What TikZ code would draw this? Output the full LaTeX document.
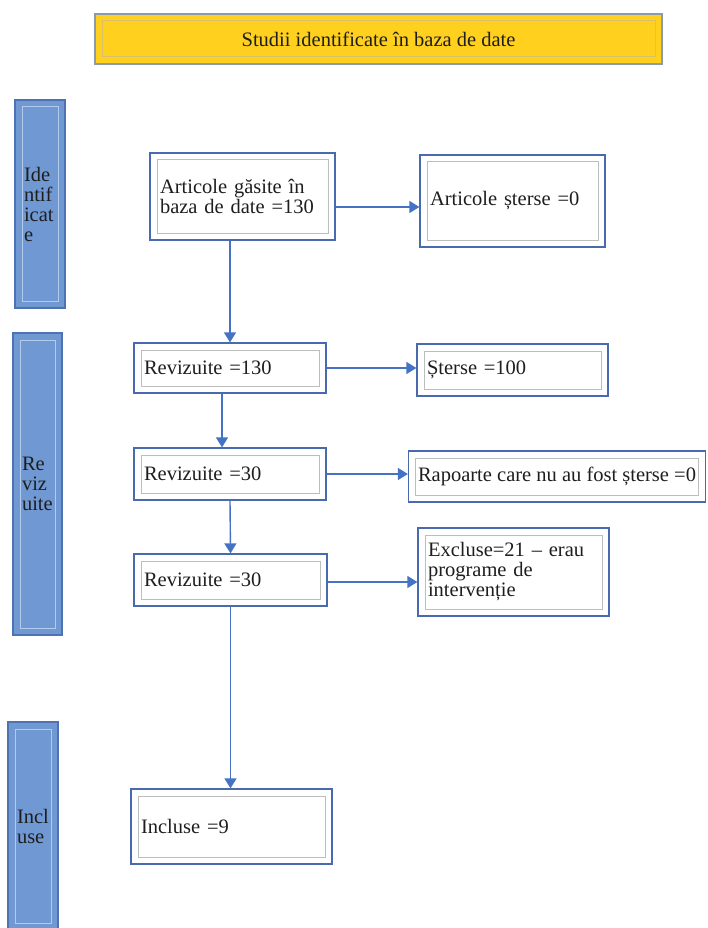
\documentclass[tikz,border=0pt]{standalone}
\usepackage{fontspec}
\setmainfont{Liberation Serif}
\usetikzlibrary{arrows.meta,calc}
\definecolor{boxblue}{HTML}{4A6AAE}
\definecolor{innergray}{HTML}{BDBDBD}
\definecolor{sidefill}{HTML}{7098D2}
\definecolor{sideedge}{HTML}{4F72B3}
\definecolor{sideinner}{HTML}{B4CAEB}
\definecolor{titlefill}{HTML}{FFD01E}
\definecolor{titleedge}{HTML}{8A9BAE}
\definecolor{titleinner}{HTML}{D9BF6A}
\definecolor{arrowblue}{HTML}{4472C4}
\definecolor{txt}{HTML}{1E1E1E}
\begin{document}
\begin{tikzpicture}[x=1pt,y=-1pt,
  every node/.style={font=\fontsize{20.5}{20}\selectfont, text=txt},
  inset/.style={path picture={\draw[#1, line width=1pt]
     ([shift={(7pt,-7pt)}]path picture bounding box.north west) rectangle
     ([shift={(-7pt,7pt)}]path picture bounding box.south east);}},
  mainbox/.style={draw=boxblue, line width=1.3pt, fill=white, inner ysep=0pt,
     inner xsep=10pt, align=left, inset=innergray},
  sidebar/.style={draw=sideedge, line width=1.3pt, fill=sidefill, inner ysep=0pt,
     inner xsep=9pt, align=left, inset=sideinner},
  titlebox/.style={draw=titleedge, line width=1.3pt, fill=titlefill, inner sep=0pt,
     align=center, inset=titleinner},
  arr/.style={draw=arrowblue, line width=1.4pt, -{Triangle[length=10pt,width=12pt]}}
]
\useasboundingbox (0,0) rectangle (708,928);
\fill[white] (0,0) rectangle (708,928);

% title
\node[titlebox, minimum width=567pt, minimum height=50pt] (title) at (378.5,39) {Studii identificate în baza de date};

% side bars
\node[sidebar, text width=32pt, minimum height=208pt] (sideI) at (40,204) {Ide\\ntif\\icat\\e};
\node[sidebar, text width=31pt, minimum height=302pt] (sideR) at (37.5,484) {Re\\viz\\uite};
\node[sidebar, text width=32pt, minimum height=208pt] (sideC) at (33,826) {Incl\\use};

% main boxes
\node[mainbox, text width=165pt, minimum height=87pt] (A1) at (242.5,196.5) {Articole găsite în\\baza de date =130};
\node[mainbox, text width=165pt, minimum height=92pt] (A2) at (512.5,201) {Articole șterse =0};
\node[mainbox, text width=172pt, minimum height=50pt] (B1) at (230,368) {Revizuite =130};
\node[mainbox, text width=171pt, minimum height=52pt] (S1) at (512.5,370) {Șterse =100};
\node[mainbox, text width=172pt, minimum height=52pt] (B2) at (230,474) {Revizuite =30};
\node[mainbox, inner xsep=3pt, minimum width=297pt, minimum height=51pt] (R2) at (557,476.5)
      {Rapoarte care nu au fost șterse =0};
\node[mainbox, text width=173pt, minimum height=52pt] (B3) at (230.5,580) {Revizuite =30};
\node[mainbox, text width=171pt, minimum height=88pt] (E3) at (513.5,572) {Excluse=21 – erau\\programe de\\intervenție};
\node[mainbox, text width=181pt, minimum height=75pt] (Inc) at (231.5,826.5) {Incluse =9};

% connectors
\draw[arr] ([yshift=-6pt]A2.west -| A1.east) -- ([yshift=-6pt]A2.west);
\draw[arr] (A1.south -| B1.north) -- (B1.north);
\draw[arr] (B1.east) -- (B1.east -| S1.west);
\draw[arr] ([xshift=-8pt]B1.south) -- ([xshift=-8pt]B2.north);
\draw[arr] (B2.east) -- (B2.east -| R2.west);
\draw[arr] (B2.south) -- (B3.north);
\draw[arr] ([yshift=-2pt]B3.east) -- ([yshift=-2pt]B3.east -| E3.west);
\draw[arr] (B3.south) -- (B3.south |- Inc.north);
\end{tikzpicture}
\end{document}
